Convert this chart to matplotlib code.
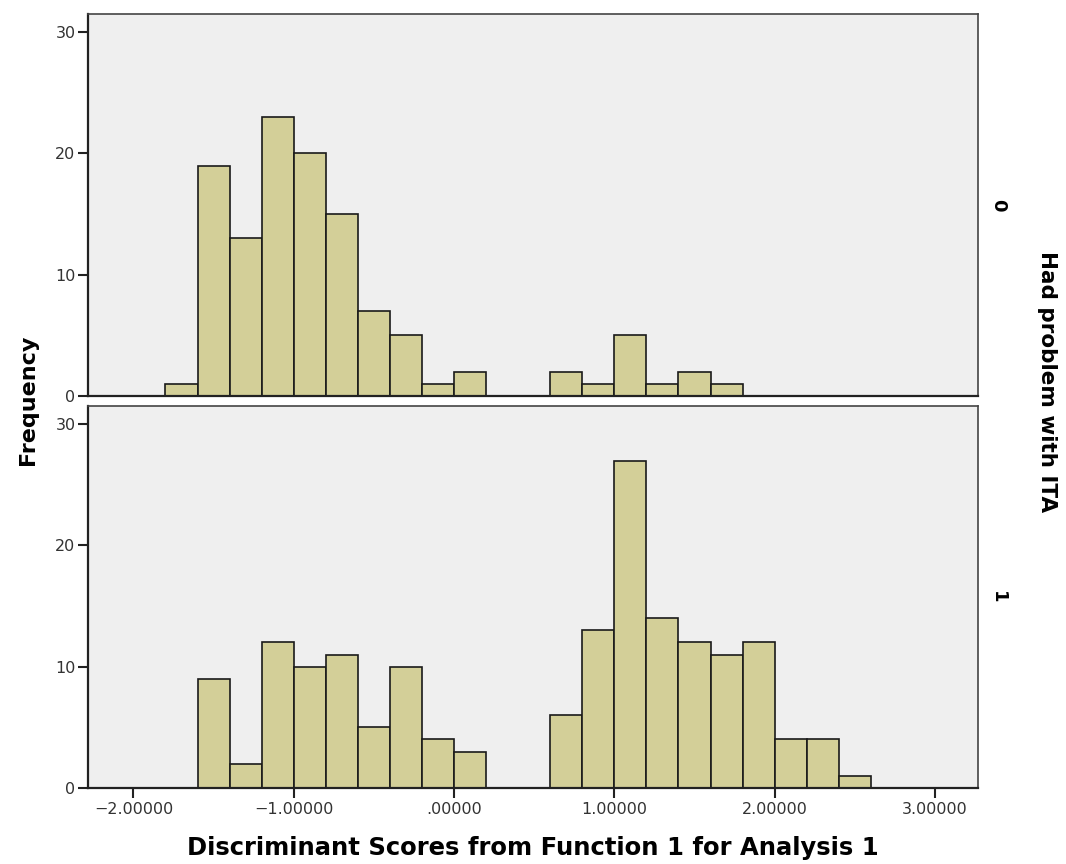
import numpy as np
import matplotlib
matplotlib.use("Agg")
import matplotlib.pyplot as plt

# histogram bins (left edges), width 0.2
bin_lefts = [-1.8, -1.6, -1.4, -1.2, -1.0, -0.8, -0.6, -0.4, -0.2, 0.0, 0.2,
             0.4, 0.6, 0.8, 1.0, 1.2, 1.4, 1.6, 1.8, 2.0, 2.2, 2.4]
bin_width = 0.2

# frequencies per group of "Had problem with ITA"
counts_0 = [1, 19, 13, 23, 20, 15, 7, 5, 1, 2, 0, 0, 2, 1, 5, 1, 2, 1, 0, 0, 0, 0]
counts_1 = [0, 9, 2, 12, 10, 11, 5, 10, 4, 3, 0, 0, 6, 13, 27, 14, 12, 11, 12, 4, 4, 1]
groups = ["0", "1"]

x_ticks = [-2.0, -1.0, 0.0, 1.0, 2.0, 3.0]
x_tick_labels = ["\u22122.00000", "\u22121.00000", ".00000", "1.00000", "2.00000", "3.00000"]
y_ticks = [0, 10, 20, 30]

bar_color = "#d3cf98"
bg_color = "#efefef"

fig = plt.figure(figsize=(10.66, 8.64), dpi=100)
ax_top = fig.add_axes([0.0826, 0.5417, 0.8349, 0.4421])
ax_bot = fig.add_axes([0.0826, 0.0880, 0.8349, 0.4421])

for ax, counts, grp in [(ax_top, counts_0, groups[0]), (ax_bot, counts_1, groups[1])]:
    ax.set_facecolor(bg_color)
    ax.bar(bin_lefts, counts, width=bin_width, align="edge",
           color=bar_color, edgecolor="#1a1a1a", linewidth=1.2, zorder=2)
    ax.set_xlim(-2.283, 3.269)
    ax.set_ylim(0, 31.5)
    ax.set_yticks(y_ticks)
    ax.tick_params(axis="y", direction="out", length=7, width=1.5,
                   color="#222222", labelsize=11.5, labelcolor="#333333", pad=2)
    for side in ["left", "bottom"]:
        ax.spines[side].set_linewidth(1.6)
        ax.spines[side].set_color("#222222")
    for side in ["top", "right"]:
        ax.spines[side].set_linewidth(1.2)
        ax.spines[side].set_color("#444444")
    ax.text(1.022, 0.5, grp, transform=ax.transAxes, rotation=-90,
            ha="center", va="center", fontsize=13, fontweight="bold")

ax_top.set_xticks([])
ax_bot.set_xticks(x_ticks)
ax_bot.set_xticklabels(x_tick_labels)
ax_bot.tick_params(axis="x", direction="out", length=7, width=1.5,
                   color="#222222", labelsize=11.5, labelcolor="#333333", pad=3)

ax_bot.set_xlabel("Discriminant Scores from Function 1 for Analysis 1",
                  fontsize=17.5, fontweight="bold", labelpad=14)
fig.text(0.026, 0.537, "Frequency", rotation=90, ha="center", va="center",
         fontsize=16, fontweight="bold")
fig.text(0.982, 0.558, "Had problem with ITA", rotation=-90, ha="center", va="center",
         fontsize=15.5, fontweight="bold")

fig.savefig("out.png", dpi=100, facecolor="white")
